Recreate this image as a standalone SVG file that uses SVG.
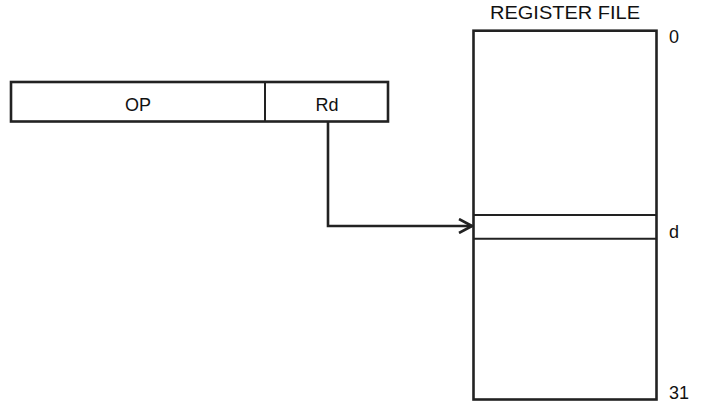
<svg xmlns="http://www.w3.org/2000/svg" width="704" height="408" viewBox="0 0 704 408">
  <style>
    .box { fill: #ffffff; stroke: #222222; stroke-width: 2.6; }
    .thin { stroke: #222222; stroke-width: 2; fill: none; }
    .wire { stroke: #222222; stroke-width: 2.6; fill: none; }
    .lbl { font-family: "Liberation Sans", Arial, sans-serif; font-size: 18px; fill: #111111; }
  </style>
  <defs>
    <marker id="arrow" markerWidth="16" markerHeight="16" refX="14" refY="8" orient="auto" markerUnits="userSpaceOnUse">
      <path d="M1,1 L14,8 L1,15" fill="none" stroke="#222222" stroke-width="2.6"/>
    </marker>
  </defs>
  <rect width="704" height="408" fill="#ffffff"/>

  <g id="instruction">
    <rect class="box" x="11" y="82" width="377" height="39.5"/>
    <line class="thin" x1="265" y1="82" x2="265" y2="121.5"/>
    <text class="lbl" x="138" y="111" text-anchor="middle" font-size="19">OP</text>
    <text class="lbl" x="327" y="111" text-anchor="middle">Rd</text>
  </g>

  <g id="register-file">
    <text class="lbl" x="490" y="19" font-size="17" textLength="150" lengthAdjust="spacingAndGlyphs">REGISTER FILE</text>
    <rect class="box" x="473.5" y="30.7" width="183" height="368.8"/>
    <line class="thin" x1="473.5" y1="215" x2="656.5" y2="215"/>
    <line class="thin" x1="473.5" y1="238.7" x2="656.5" y2="238.7"/>
    <text class="lbl" x="669" y="42.5">0</text>
    <text class="lbl" x="669" y="238">d</text>
    <text class="lbl" x="669" y="399">31</text>
  </g>

  <g id="connectors">
    <path class="wire" d="M328,121.5 L328,226 L472,226" marker-end="url(#arrow)"/>
  </g>
</svg>
